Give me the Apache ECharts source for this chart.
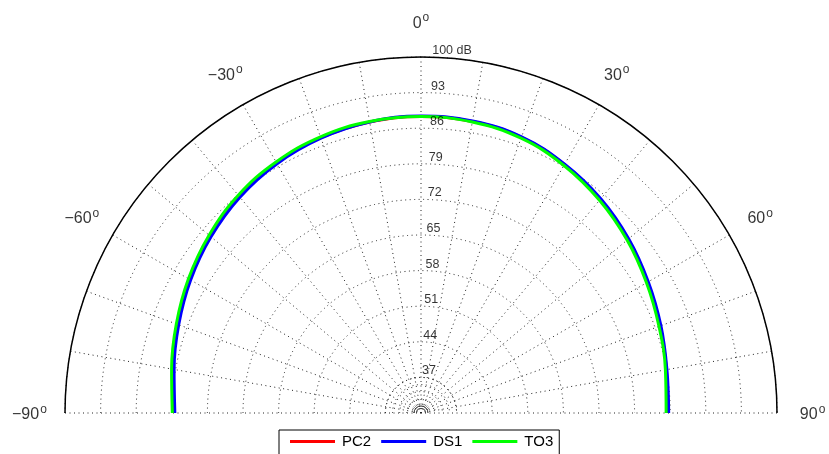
<!DOCTYPE html>
<html><head><meta charset="utf-8">
<script src="https://cdn.jsdelivr.net/npm/echarts@6/dist/echarts.min.js"></script>
<style>html,body{margin:0;padding:0;background:#fff}#c{width:829px;height:454px}</style>
</head><body><div id="c"></div>
<script>
// ---- data (dB) ----
const angles = [-90,-80,-70,-60,-50,-40,-30,-20,-10,0,10,20,30,40,50,60,70,80,90];
const pc2 = [78.6,79.5,80.9,82.5,84.1,85.6,86.8,87.6,88.1,88.3,88.2,87.7,86.4,84.8,83.1,81.4,80.0,79.0,78.5];
const ds1 = [78.4,79.3,80.7,82.3,83.9,85.4,86.6,87.5,88.1,88.4,88.3,87.8,86.5,85.0,83.3,81.6,80.2,79.1,78.7];
const to3 = [78.9,79.8,81.2,82.8,84.4,85.9,87.0,87.8,88.2,88.3,88.1,87.5,86.2,84.6,82.9,81.2,79.8,78.8,78.2];
const seriesNames = ['PC2','DS1','TO3'];
const ringTicks = [37,44,51,58,65,72,79,86,93,100];
const ringTickLabels = ['37','44','51','58','65','72','79','86','93','100 dB'];
const angleTicks = [-90,-60,-30,0,30,60,90];
const angleTickLabels = ['\u221290','\u221260','\u221230','0','30','60','90'];
const dbMin = 30, dbMax = 100, dbStep = 7;

// ---- build ----
const FONT = 'Liberation Sans, Arial, Helvetica, sans-serif';
const toR = v => v - dbMin;
const span = dbMax - dbMin;
const mk = arr => arr.map((v,i) => [toR(v), angles[i]]);
const colors = ['#ff0000','#0000ff','#00ff00'];
const dataSets = [pc2, ds1, to3];

const CX = 421, CY = 413, R = 356;
const dotted = {color:'#222', width:1, type:[1,3.5]};

const halfAngle = (extra) => Object.assign({
  type:'value', min:-90, max:90, startAngle:180, endAngle:0, clockwise:true,
  axisLabel:{show:false}, axisTick:{show:false}, splitLine:{show:false}, axisLine:{show:false}
}, extra||{});

const option = {
  animation:false,
  backgroundColor:'#fff',
  polar:[
    {center:[CX,CY], radius:R},
    {center:[CX,CY], radius:R*dbStep/span},
    {center:[CX,CY], radius:7}
  ],
  angleAxis:[
    halfAngle({polarIndex:0, interval:10, splitLine:{show:true, lineStyle:dotted},
      axisLine:{show:true, lineStyle:{color:'#000', width:1.5}}}),
    halfAngle({polarIndex:1}),
    halfAngle({polarIndex:2, axisLine:{show:true, lineStyle:{color:'#222', width:1}}})
  ],
  radiusAxis:[
    {polarIndex:0, type:'value', min:0, max:span, interval:dbStep,
      axisLine:{show:false}, axisTick:{show:false}, axisLabel:{show:false},
      splitLine:{show:true, lineStyle:dotted}},
    {polarIndex:1, type:'value', min:0, max:5, interval:1,
      axisLine:{show:false}, axisTick:{show:false}, axisLabel:{show:false},
      splitLine:{show:true, lineStyle:dotted}},
    {polarIndex:2, type:'value', min:0, max:1,
      axisLine:{show:false}, axisTick:{show:false}, axisLabel:{show:false}, splitLine:{show:false}}
  ],
  legend:{
    data:seriesNames, left:279, top:430, orient:'horizontal',
    icon:'rect', itemWidth:45, itemHeight:3, itemGap:10,
    padding:[4,6,14,11], borderColor:'#000', borderWidth:1, backgroundColor:'#fff',
    textStyle:{fontFamily:FONT, fontSize:15, color:'#000', padding:[0,0,0,2]},
    selectedMode:false
  },
  series:[
    ...seriesNames.map((n,i)=>({
      name:n, type:'line', coordinateSystem:'polar', polarIndex:0,
      data:mk(dataSets[i]), smooth:0.4, symbol:'none', showSymbol:false,
      color:colors[i], itemStyle:{color:colors[i]},
      lineStyle:{color:colors[i], width:3}, silent:true, z:5
    })),
    {
      type:'scatter', coordinateSystem:'polar', polarIndex:0, clip:false, silent:true,
      symbolSize:0, z:6,
      data:angleTicks.map((a,i)=>({value:[span*1.1, a], name:angleTickLabels[i]})),
      label:{show:true, position:'inside', align:'center', verticalAlign:'middle',
        formatter:p=>'{n|'+p.name+'}{s|o}',
        rich:{
          n:{fontFamily:FONT, fontSize:16, lineHeight:19.5, color:'#000', verticalAlign:'bottom'},
          s:{fontFamily:FONT, fontSize:12, lineHeight:12, color:'#000', verticalAlign:'top', padding:[0,0,0,1]}
        }}
    },
    {
      type:'scatter', coordinateSystem:'polar', polarIndex:0, clip:false, silent:true,
      symbolSize:0, z:6,
      data:ringTicks.map((v,i)=>({value:[toR(v), 1.8], name:ringTickLabels[i]})),
      label:{show:true, position:[0,0], align:'left', verticalAlign:'bottom',
        formatter:p=>p.name, fontFamily:FONT, fontSize:12.5, color:'#000'}
    }
  ]
};
const chart = echarts.init(document.getElementById('c'), null, {renderer:'canvas'});
chart.setOption(option);
</script></body></html>
